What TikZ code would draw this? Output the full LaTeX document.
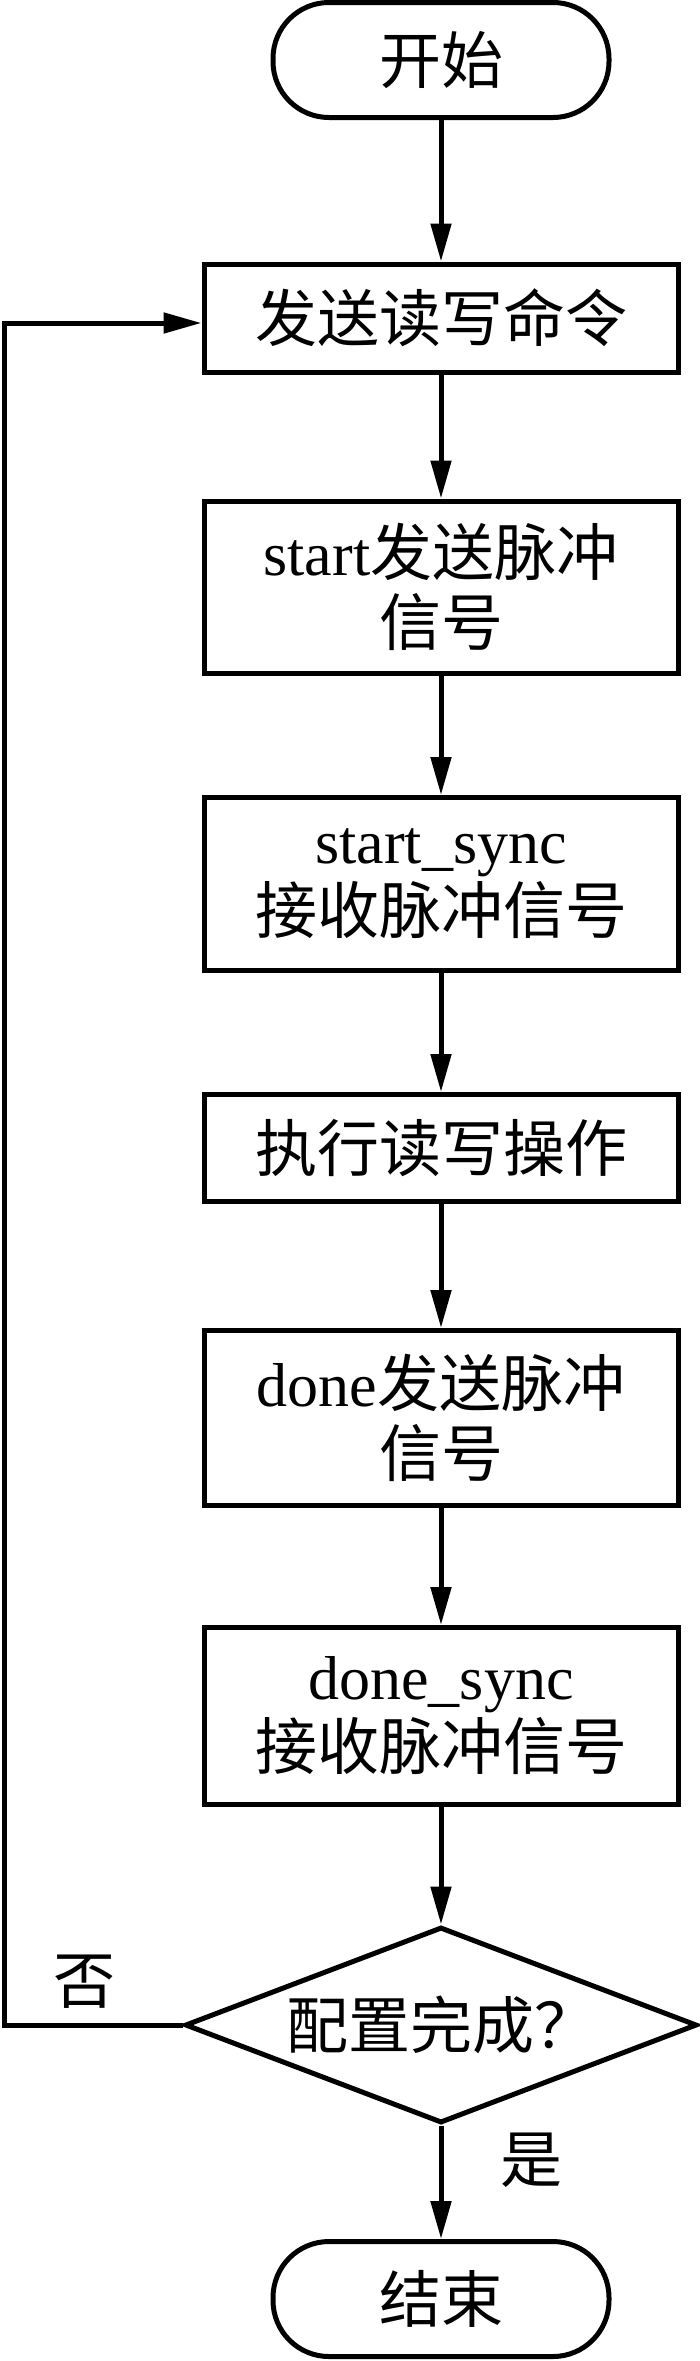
\documentclass[tikz,border=0pt]{standalone}
\usepackage{fontspec}
\setmainfont{Liberation Serif}
\newfontfamily\cjk{Noto Sans CJK SC}
\usetikzlibrary{shapes.geometric,arrows.meta}
\begin{document}
\begin{tikzpicture}[x=1pt,y=-1pt,
    every node/.style={font=\cjk\fontsize{62}{70}\selectfont},
    proc/.style={draw,line width=5pt,minimum width=474pt,align=center,inner sep=0pt},
    term/.style={draw,line width=5pt,rounded corners=56pt,minimum width=336pt,minimum height=115pt},
    decide/.style={draw,line width=5pt,diamond,aspect=2.6,minimum width=512pt,minimum height=196pt,inner sep=0pt},
    flow/.style={line width=5pt,-{Triangle[length=38pt,width=20pt]}}]
    \useasboundingbox (0,0) rectangle (700,2361);
    % Terminals
    \node[term] (start) at (441,60) {开始};
    \node[term] (finish) at (441,2299) {结束};
    % Steps
    \node[proc,minimum height=108pt] (send) at (441,318) {发送读写命令};
    \node[proc,minimum height=172pt] (spulse) at (441,587) {{\rmfamily start}发送脉冲\\信号};
    \node[proc,minimum height=173pt] (ssync) at (441,884) {{\rmfamily start\_sync}\\接收脉冲信号};
    \node[proc,minimum height=107pt] (exec) at (441,1148) {执行读写操作};
    \node[proc,minimum height=175pt] (dpulse) at (441,1418) {{\rmfamily done}发送脉冲\\信号};
    \node[proc,minimum height=177pt] (dsync) at (441,1716) {{\rmfamily done\_sync}\\接收脉冲信号};
    % Check
    \node[decide] (check) at (441,2025) {配置完成？};
    \node (no) at (84,1982) {否};
    \node (yes) at (531,2160) {是};
    \coordinate (loop) at (4,2025);

    \draw[flow] (start) -- (send);
    \draw[flow] (send) -- (spulse);
    \draw[flow] (spulse) -- (ssync);
    \draw[flow] (ssync) -- (exec);
    \draw[flow] (exec) -- (dpulse);
    \draw[flow] (dpulse) -- (dsync);
    \draw[flow] (dsync) -- (check);
    \draw[flow] (check) -- (finish);
    \draw[flow] (check.west) -- (loop) |- ([yshift=-5pt]send.west);
  \end{tikzpicture}
\end{document}
